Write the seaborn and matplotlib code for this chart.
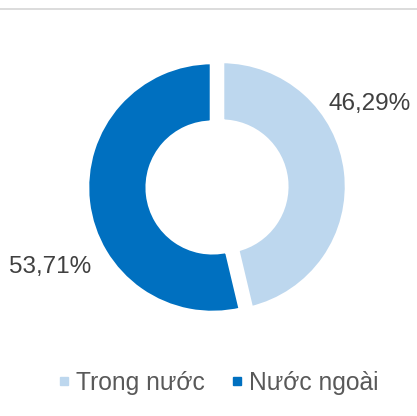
import matplotlib
matplotlib.use("Agg")
import matplotlib.pyplot as plt
from matplotlib.lines import Line2D
import seaborn as sns

categories = ["Trong nước", "Nước ngoài"]
values = [46.29, 53.71]
palette = ["#BDD7EE", "#0070C0"]

sns.set_theme(style="white")
plt.rcParams["font.family"] = ["Liberation Sans", "DejaVu Sans"]

W, H = 417, 416
fig = plt.figure(figsize=(W / 100, H / 100), dpi=100)
ax = fig.add_axes([0, 0, 1, 1])
R = 126.0
cx, cy = 212.5, 187.5

wedges, _ = ax.pie(values, colors=sns.color_palette(palette), startangle=90,
                   counterclock=False, explode=[0.072, 0], radius=1.0,
                   wedgeprops=dict(width=0.49, edgecolor="white", linewidth=4))
ax.set_xlim(-cx / R, (W - cx) / R)
ax.set_ylim(-(H - cy) / R, cy / R)
ax.set_aspect("equal")
ax.axis("off")

labels = [f"{v:.2f}".replace(".", ",") + "%" for v in values]
label_pos = [(1.245, 0.665), (-1.29, -0.63)]
for lab, (x, y) in zip(labels, label_pos):
    ax.text(x, y, lab, ha="center", va="center", fontsize=17.5, color="#404040")

handles = [Line2D([0], [0], marker="s", linestyle="none", markersize=5.3,
                  markerfacecolor=c, markeredgecolor=c) for c in palette]
fig.legend(handles, categories, loc="center", bbox_to_anchor=(0.5 + 10 / W, 1 - 383 / H),
           ncol=2, frameon=False, fontsize=17.7, labelcolor="#595959",
           handletextpad=0.3, columnspacing=1.1, handlelength=0.4)

fig.add_artist(Line2D([0, 1], [1 - 8.5 / H, 1 - 8.5 / H], color="#d9d9d9",
                      linewidth=1.3, transform=fig.transFigure))

fig.savefig("out.png", dpi=100, facecolor="white")
